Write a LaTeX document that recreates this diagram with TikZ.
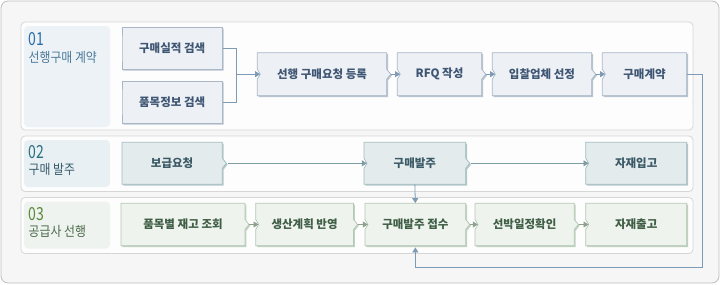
\documentclass[tikz,border=0pt]{standalone}
\usepackage{fontspec}
\setmainfont{Noto Sans CJK KR}
\newfontfamily\lblfont[FakeStretch=0.88]{Noto Sans CJK KR}
\newfontfamily\numfont[FakeStretch=0.78]{Noto Sans CJK KR}
\usetikzlibrary{arrows.meta,calc}
\definecolor{outerfill}{HTML}{F6F6F6}
\definecolor{outerline}{HTML}{BDBDBD}
\definecolor{panelfill}{HTML}{FDFDFD}
\definecolor{panelline}{HTML}{D6D6D6}
\definecolor{lblA}{HTML}{EDF2F7}
\definecolor{lblB}{HTML}{E8F0F3}
\definecolor{lblC}{HTML}{EFF3EF}
\definecolor{rowAfill}{HTML}{EDF0F5}
\definecolor{rowAline}{HTML}{A9B6C6}
\definecolor{rowAshadow}{HTML}{BAC5D2}
\definecolor{rowAtext}{HTML}{3E5673}
\definecolor{rowBfill}{HTML}{E3EBED}
\definecolor{rowBline}{HTML}{A3BDC0}
\definecolor{rowBshadow}{HTML}{B5C8CA}
\definecolor{rowBtext}{HTML}{3B5A66}
\definecolor{rowCfill}{HTML}{EEF3EE}
\definecolor{rowCline}{HTML}{B3C8B3}
\definecolor{rowCshadow}{HTML}{C2D2C2}
\definecolor{rowCtext}{HTML}{3F5E45}
\definecolor{arrA}{HTML}{7E9BB6}
\definecolor{arrB}{HTML}{7D9CA3}
\definecolor{arrC}{HTML}{8FA08F}
\definecolor{numA}{HTML}{2C6EA8}
\definecolor{txtA}{HTML}{4A7A9A}
\definecolor{numB}{HTML}{2A7080}
\definecolor{txtB}{HTML}{355A6A}
\definecolor{numC}{HTML}{5A8A3A}
\definecolor{txtC}{HTML}{4A6A4A}
\tikzset{
  boxtext/.style={inner sep=0pt, font=\fontsize{11.5}{13}\selectfont\bfseries},
  numtext/.style={inner sep=0pt, anchor=west, font=\numfont\fontsize{18}{18}\selectfont},
  lbltext/.style={inner sep=0pt, anchor=west, font=\lblfont\fontsize{13.5}{14}\selectfont},
  panel/.style={draw=panelline, fill=panelfill, line width=0.8pt, rounded corners=4pt},
  arrowA/.style={draw=arrA, line width=0.8pt, -{Triangle[width=6pt,length=5pt]}},
  arrowB/.style={draw=arrB, line width=0.8pt, -{Triangle[width=6pt,length=5pt]}},
  arrowC/.style={draw=arrC, line width=0.8pt, -{Triangle[width=6pt,length=5pt]}},
  lineA/.style={draw=arrA, line width=0.8pt},
}
% name, x1,y1,x2,y2, left notch, right chevron, row key, text
\newcommand\flowbox[9]{%
  \pgfmathsetmacro\fbx{(#2+#4)/2}\pgfmathsetmacro\fby{(#3+#5)/2}%
  \pgfmathsetmacro\fbw{#4-#2}\pgfmathsetmacro\fbh{#5-#3}%
  \pgfmathsetmacro\fbu{\fby-5}\pgfmathsetmacro\fbd{\fby+5}%
  \pgfmathsetmacro\fbr{#4+#7}\pgfmathsetmacro\fbl{#2+#6}%
  \fill[#8shadow, shift={(1.3,1.3)}] (#2,#3) -- (#4,#3) -- (#4,\fbu) -- (\fbr,\fby) -- (#4,\fbd) -- (#4,#5) -- (#2,#5) -- (#2,\fbd) -- (\fbl,\fby) -- (#2,\fbu) -- cycle;
  \filldraw[fill=#8fill, draw=#8line, line width=0.7pt] (#2,#3) -- (#4,#3) -- (#4,\fbu) -- (\fbr,\fby) -- (#4,\fbd) -- (#4,#5) -- (#2,#5) -- (#2,\fbd) -- (\fbl,\fby) -- (#2,\fbu) -- cycle;
  \node[boxtext, text=#8text, minimum width=\fbw pt, minimum height=\fbh pt] (#1) at (\fbx,\fby) {#9};
}
\begin{document}
\begin{tikzpicture}[x=1pt,y=-1pt]
\useasboundingbox (0,0) rectangle (720,284);
\draw[draw=outerline, fill=outerfill, line width=0.8pt, rounded corners=7pt] (1,1) rectangle (719,283);
% panels
\draw[panel] (21,22) rectangle (693,130);
\draw[panel] (21,136) rectangle (693,191.5);
\draw[panel] (21,197.5) rectangle (693,253.5);
\fill[lblA, rounded corners=4pt] (24,26) rectangle (110,127);
\fill[lblB, rounded corners=4pt] (24,140) rectangle (110,187);
\fill[lblC, rounded corners=4pt] (24,201.5) rectangle (110,248.5);
\node[numtext, text=numA] (n1) at (28.5,39) {01};
\node[lbltext, text=txtA] (t1) at (28.5,57) {선행구매 계약};
\node[numtext, text=numB] (n2) at (28.5,152) {02};
\node[lbltext, text=txtB] (t2) at (28.5,169.5) {구매 발주};
\node[numtext, text=numC] (n3) at (28.5,214) {03};
\node[lbltext, text=txtC] (t3) at (28.5,231.5) {공급사 선행};
% row 1
\flowbox{a1}{122}{27.3}{222.3}{69.3}{0}{0}{rowA}{구매실적 검색}
\flowbox{a2}{122}{81}{222.3}{123.3}{0}{0}{rowA}{품목정보 검색}
\flowbox{a3}{257.3}{52.7}{386.7}{95.7}{3}{4}{rowA}{선행 구매요청 등록}
\flowbox{a4}{397.3}{52.7}{481.7}{95.7}{3}{4}{rowA}{RFQ 작성}
\flowbox{a5}{492.3}{52.7}{591.7}{95.7}{3}{4}{rowA}{입찰업체 선정}
\flowbox{a6}{602.3}{52.7}{686.7}{95.7}{3}{0}{rowA}{구매계약}
% row 2
\flowbox{b1}{122}{142.3}{222.3}{184.3}{0}{4}{rowB}{보급요청}
\flowbox{b2}{364}{142.3}{465.7}{184.3}{3}{4}{rowB}{구매발주}
\flowbox{b3}{585.7}{142.3}{686.7}{184.3}{3}{0}{rowB}{자재입고}
% row 3
\flowbox{c1}{121}{203.3}{245}{245.7}{0}{4}{rowC}{품목별 재고 조회}
\flowbox{c2}{255.7}{203.3}{353.5}{245.7}{3}{4}{rowC}{생산계획 반영}
\flowbox{c3}{365}{203.3}{465.7}{245.7}{3}{4}{rowC}{구매발주 접수}
\flowbox{c4}{475}{203.3}{574.3}{245.7}{3}{4}{rowC}{선박일정확인}
\flowbox{c5}{585.7}{203.3}{686.7}{245.7}{3}{0}{rowC}{자재출고}
% connectors row 1
\coordinate (j) at (236.3,74.2);
\draw[lineA] (a1.east) -| (j);
\draw[lineA] (a2.east) -| (j);
\draw[arrowA] (j) -- ([xshift=3pt]a3.west);
\draw[arrowA] ([xshift=4pt]a3.east) -- ([xshift=3pt]a4.west);
\draw[arrowA] ([xshift=4pt]a4.east) -- ([xshift=3pt]a5.west);
\draw[arrowA] ([xshift=4pt]a5.east) -- ([xshift=3pt]a6.west);
% row 2
\draw[arrowB] ([xshift=5pt]b1.east) -- ([xshift=3pt]b2.west);
\draw[arrowB] ([xshift=5pt]b2.east) -- ([xshift=3pt]b3.west);
\draw[arrowA] (b2.south) -- (c3.north);
% row 3
\draw[arrowC] ([xshift=4pt]c1.east) -- ([xshift=3pt]c2.west);
\draw[arrowC] ([xshift=4pt]c2.east) -- ([xshift=3pt]c3.west);
\draw[arrowC] ([xshift=4pt]c3.east) -- ([xshift=3pt]c4.west);
\draw[arrowC] ([xshift=4pt]c4.east) -- ([xshift=3pt]c5.west);
% feedback loop
\coordinate (k1) at (702.3,74.2);
\coordinate (k2) at (702.3,267.7);
\draw[arrowA] (a6.east) -- (k1) -- (k2) -| ([yshift=-1.5pt]c3.south);
\end{tikzpicture}
\end{document}
